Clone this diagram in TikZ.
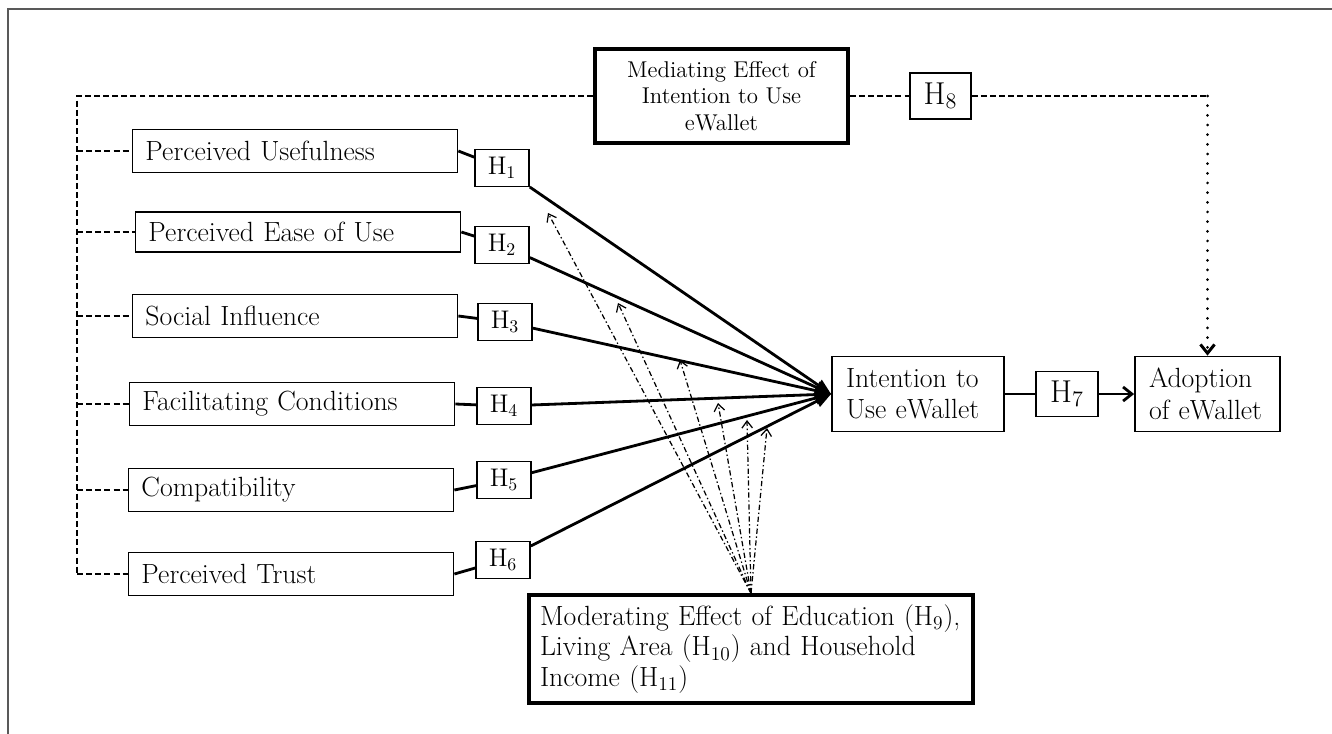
\documentclass[tikz,border=0pt]{standalone}
\usetikzlibrary{arrows.meta}

\begin{document}
\begin{tikzpicture}[x=0.2mm,y=-0.2mm,
    factor/.style={draw,line width=1pt,minimum height=8.6mm,text width=59.8mm,
      inner xsep=2.6mm,align=left,font=\fontsize{15.8}{17}\selectfont},
    hyp/.style={draw,line width=0.9pt,minimum width=10.8mm,minimum height=7.4mm,
      inner sep=0pt,font=\fontsize{14.5}{15}\selectfont},
    bighyp/.style={hyp,minimum width=12.4mm,minimum height=9mm,font=\fontsize{18}{18}\selectfont},
    outcome/.style={draw,line width=1pt,minimum height=15mm,text width=28.8mm,
      inner xsep=2.8mm,align=left,font=\fontsize{15.8}{17.8}\selectfont},
    effect/.style={draw,line width=2pt},
    link/.style={dash pattern=on 3.4pt off 1.8pt,line width=1pt},
    path/.style={line width=1.6pt},
    moder/.style={line width=0.7pt,dash pattern=on 3pt off 1.5pt on 0.8pt off 1.5pt,
      -{Straight Barb[length=4pt,width=6pt]}},
    frame/.style={line width=0.8pt,black!65}]
  \useasboundingbox (0,0) rectangle (1332,734);
  % \draw[help lines,step=50] (0,0) grid (1332,734);
  \draw[frame] (8,740) -- (8,9) -- (1340,9);

  % constructs
  \node[factor] (PU) at (295,151) {Perceived Usefulness};
  \node[factor,minimum height=8mm] (PEOU) at (298,232) {Perceived Ease of Use};
  \node[factor] (SI) at (295,316) {Social Influence};
  \node[factor] (FC) at (292,404) {Facilitating Conditions};
  \node[factor] (Comp) at (291,490) {Compatibility};
  \node[factor] (PT) at (291,574) {Perceived Trust};

  \node[hyp] (H1) at (502,168) {H\textsubscript{1}};
  \node[hyp] (H2) at (502,245) {H\textsubscript{2}};
  \node[hyp] (H3) at (505,322) {H\textsubscript{3}};
  \node[hyp] (H4) at (504,406) {H\textsubscript{4}};
  \node[hyp] (H5) at (504,480) {H\textsubscript{5}};
  \node[hyp] (H6) at (503,560) {H\textsubscript{6}};

  \node[outcome] (Int) at (918,394) {Intention to\\Use eWallet};
  \node[bighyp] (H7) at (1067,394) {H\textsubscript{7}};
  \node[outcome,text width=23.4mm] (Ado) at (1207.5,394) {Adoption\\of eWallet};

  \node[effect,align=center,minimum width=50.6mm,minimum height=18.8mm,
    font=\fontsize{13}{15.2}\selectfont] (Med) at (721.5,96)
    {Mediating Effect of\\Intention to Use\\eWallet};
  \node[bighyp,minimum width=12.2mm,minimum height=9.2mm] (H8) at (940.5,96) {H\textsubscript{8}};
  \node[effect,align=left,text width=84.4mm,inner xsep=2.2mm,minimum height=21.6mm,
    font=\fontsize{15.8}{17.4}\selectfont] (Mod) at (751,649)
    {Moderating Effect of Education (H\textsubscript{9}),\\
     Living Area (H\textsubscript{10}) and Household\\
     Income (H\textsubscript{11})};

  % mediating path
  \coordinate (tl) at (77,96);
  \coordinate (tr) at (1207.5,96);
  \draw[link] (Med) -- (tl) -- (PT.west -| tl);
  \foreach \n in {PU,PEOU,SI,FC,Comp,PT}
    \draw[link] (\n.west -| tl) -- (\n.west);
  \draw[link] (Med) -- (H8) -- (tr);
  \draw[line width=1.7pt,dash pattern=on 0pt off 5.5pt,line cap=round,
    -{Straight Barb[length=5pt,width=8pt,line cap=butt]}] (tr) -- (Ado);

  % direct effects
  \foreach \f/\h in {PU/H1,PEOU/H2,SI/H3,FC/H4,Comp/H5,PT/H6} {
    \draw[path] (\f.east) -- (\h);
    \draw[path,-{Triangle[length=9pt,width=7pt]}] (\h) -- (Int.west);
  }
  \draw[path] (Int) -- (H7);
  \draw[path,-{Straight Barb[length=5pt,width=8pt]}] (H7) -- (Ado);

  % moderating effects
  \coordinate (m1) at (548,213);
  \coordinate (m2) at (618,303);
  \coordinate (m3) at (680,360);
  \coordinate (m4) at (718,403);
  \coordinate (m5) at (747,420);
  \coordinate (m6) at (767,428);
  \foreach \m in {1,...,6}
    \draw[moder] (Mod.north) -- (m\m);
\end{tikzpicture}
\end{document}
